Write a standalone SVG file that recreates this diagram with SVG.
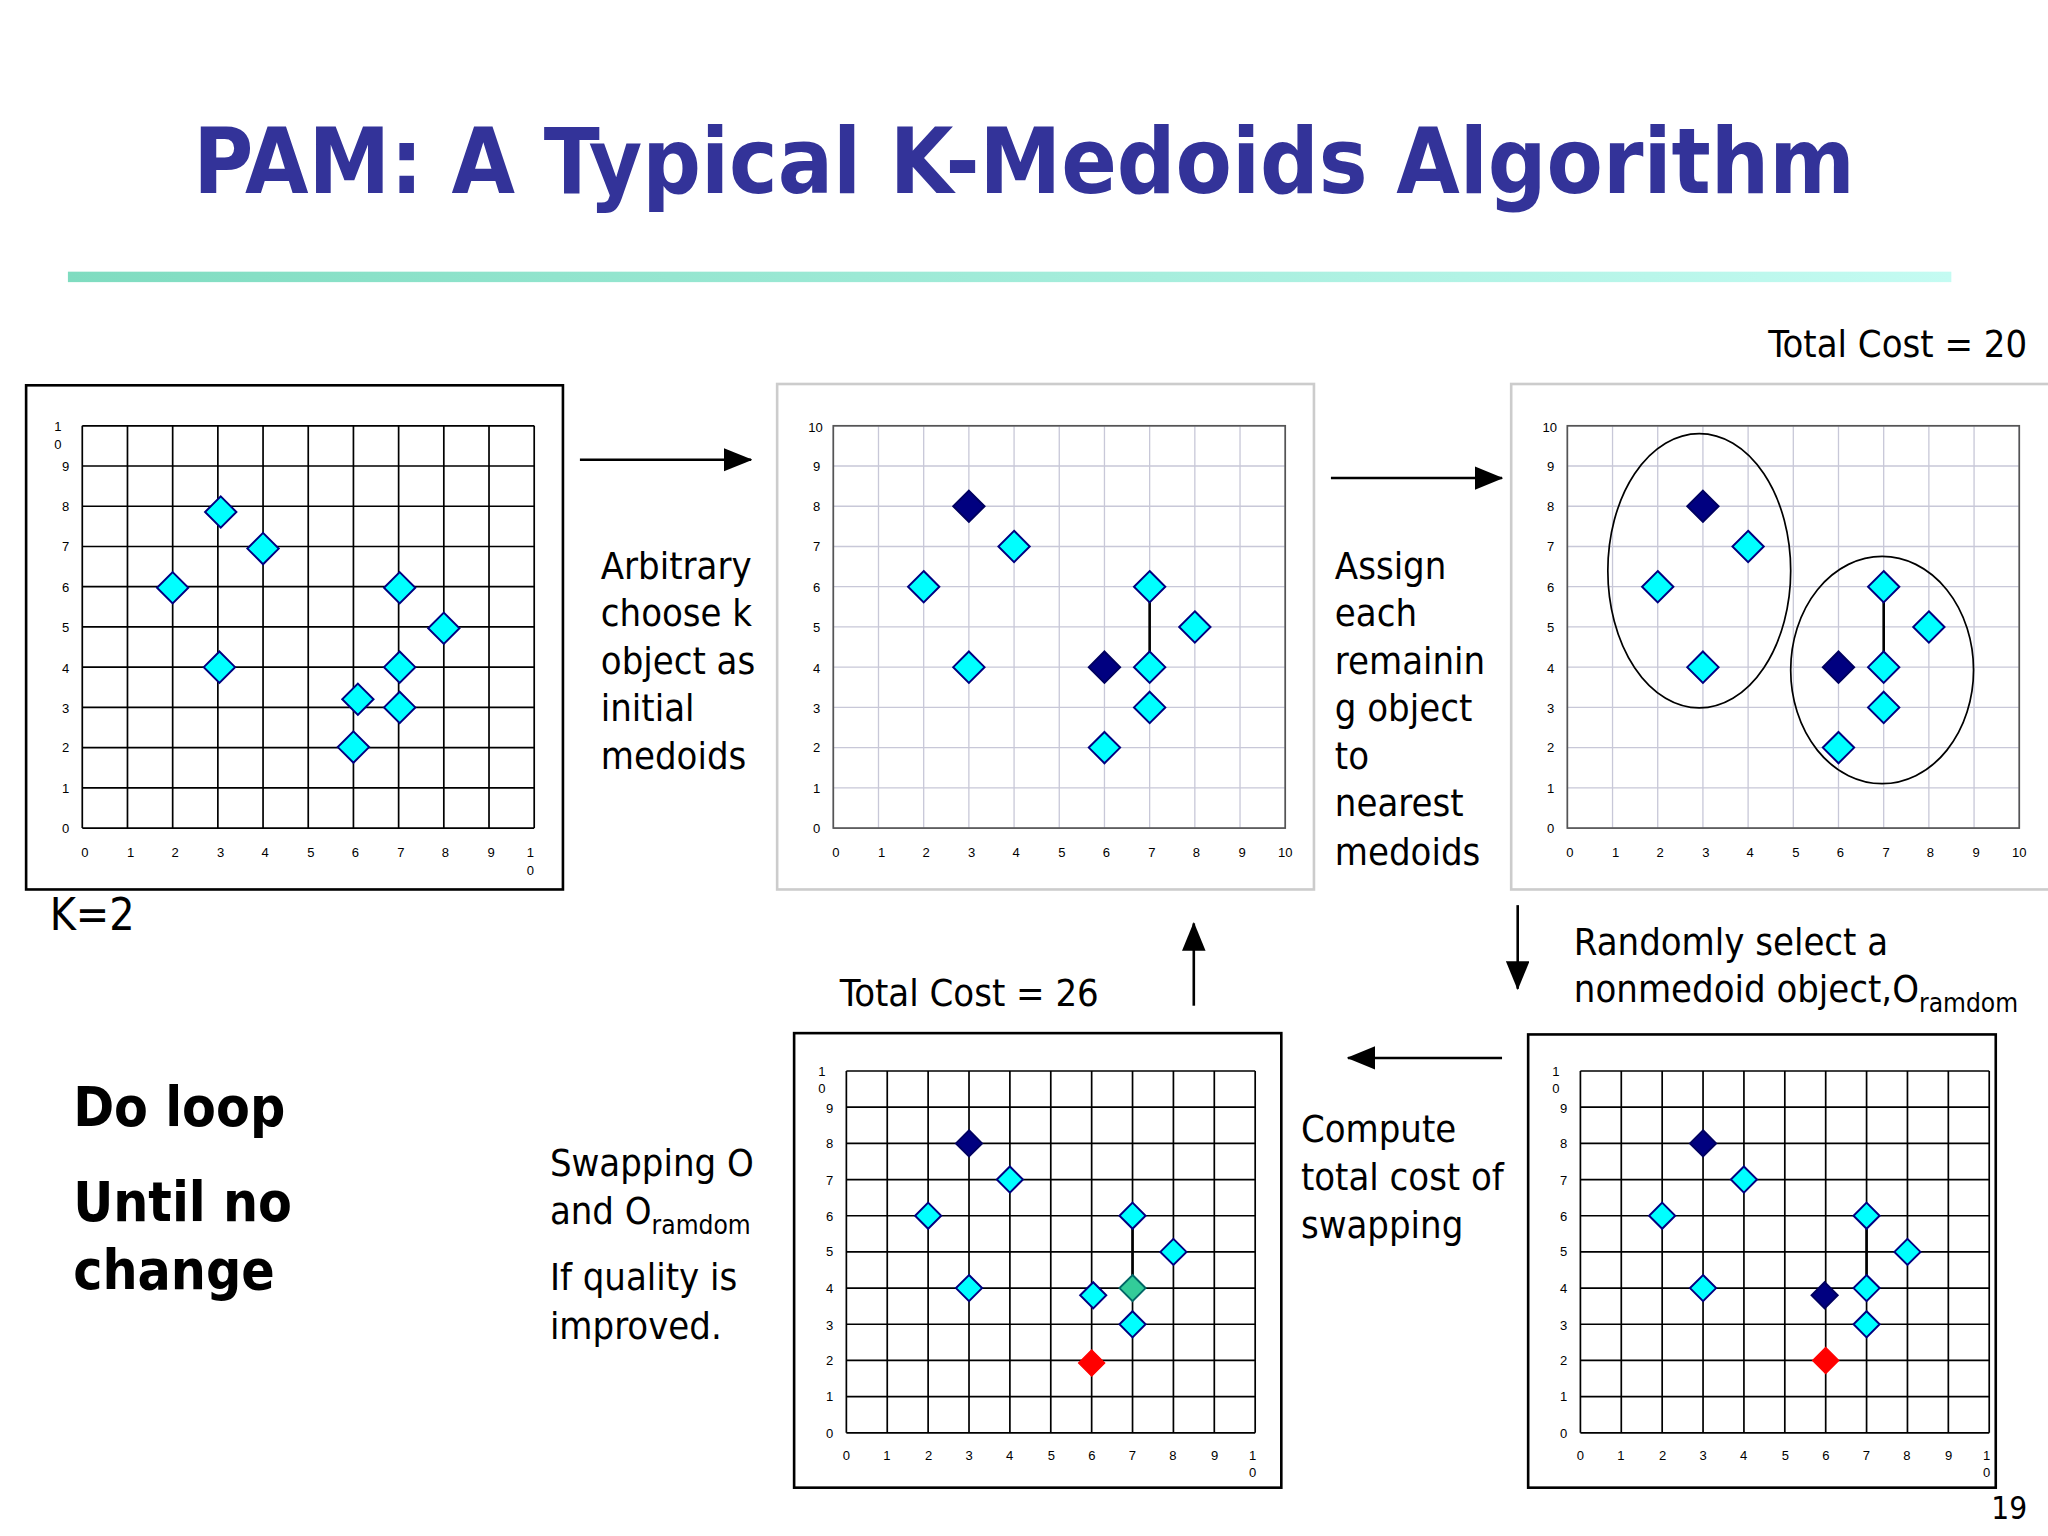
<svg xmlns="http://www.w3.org/2000/svg" xmlns:xlink="http://www.w3.org/1999/xlink" width="2048" height="1536" viewBox="0 0 2048 1536">
<style>
.t{font-family:"DejaVu Sans Condensed","DejaVu Sans",Verdana,sans-serif;font-size:29px;fill:#000}
.b{font-family:"DejaVu Sans Condensed","DejaVu Sans",Verdana,sans-serif;font-size:42px;font-weight:bold;fill:#000}
.ax{font-family:"Liberation Sans",Arial,sans-serif;font-size:10px;fill:#000}
.sub{font-size:20px}
.c{fill:#00ffff;stroke:#000080;stroke-width:1.5}
.m{fill:#000080;stroke:#000060;stroke-width:1.5}
.r{fill:#ff0000;stroke:#ff0000}
.g{fill:#33cc99;stroke:#006666;stroke-width:1.5}
.arr{stroke:#000;stroke-width:2;fill:none;marker-end:url(#ah)}
</style>
<defs>
<linearGradient id="lg" x1="0" x2="1"><stop offset="0" stop-color="#7fdcc0"/><stop offset="1" stop-color="#c4fbf2"/></linearGradient>
<marker id="ah" markerWidth="22" markerHeight="18" refX="21" refY="9" orient="auto" markerUnits="userSpaceOnUse" viewBox="0 0 22 18"><path d="M0 0L22 9L0 18z" fill="#000"/></marker>
<polygon id="dA" points="0,-12 12,0 0,12 -12,0"/>
<polygon id="dB" points="0,-10 10,0 0,10 -10,0"/>
<path id="gA" fill="none" d="M0 0V308M34.6 0V308M69.2 0V308M103.8 0V308M138.4 0V308M173 0V308M207.6 0V308M242.2 0V308M276.8 0V308M311.4 0V308M346 0V308M0 0H346M0 30.8H346M0 61.6H346M0 92.4H346M0 123.2H346M0 154H346M0 184.8H346M0 215.6H346M0 246.4H346M0 277.2H346M0 308H346"/>
<path id="gB" fill="none" d="M0 0V277M31.3 0V277M62.6 0V277M93.9 0V277M125.2 0V277M156.5 0V277M187.8 0V277M219.1 0V277M250.4 0V277M281.7 0V277M313 0V277M0 0H313M0 27.7H313M0 55.4H313M0 83.1H313M0 110.8H313M0 138.5H313M0 166.2H313M0 193.9H313M0 221.6H313M0 249.3H313M0 277H313"/>
<g id="yA" class="ax" text-anchor="end"><text x="-10" y="35">9</text><text x="-10" y="65">8</text><text x="-10" y="96">7</text><text x="-10" y="127">6</text><text x="-10" y="158">5</text><text x="-10" y="189">4</text><text x="-10" y="220">3</text><text x="-10" y="250">2</text><text x="-10" y="281">1</text><text x="-10" y="312">0</text></g>
<g id="xA" class="ax" text-anchor="middle"><text x="2" y="330">0</text><text x="37" y="330">1</text><text x="71" y="330">2</text><text x="106" y="330">3</text><text x="140" y="330">4</text><text x="175" y="330">5</text><text x="209" y="330">6</text><text x="244" y="330">7</text><text x="278" y="330">8</text><text x="313" y="330">9</text></g>
<g id="yB" class="ax" text-anchor="end"><text x="-10" y="32">9</text><text x="-10" y="59">8</text><text x="-10" y="87">7</text><text x="-10" y="115">6</text><text x="-10" y="142">5</text><text x="-10" y="170">4</text><text x="-10" y="198">3</text><text x="-10" y="225">2</text><text x="-10" y="253">1</text><text x="-10" y="281">0</text><text x="-16" y="4">1</text><text x="-16" y="17">0</text></g>
<g id="xB" class="ax" text-anchor="middle"><text x="0" y="298">0</text><text x="31" y="298">1</text><text x="63" y="298">2</text><text x="94" y="298">3</text><text x="125" y="298">4</text><text x="157" y="298">5</text><text x="188" y="298">6</text><text x="219" y="298">7</text><text x="250" y="298">8</text><text x="282" y="298">9</text><text x="311" y="298">1</text><text x="311" y="311">0</text></g>
</defs>
<rect width="2048" height="1536" fill="#fff"/>
<g transform="scale(1.30612)">
<g id="title"><text x="148" y="148" textLength="1272" lengthAdjust="spacingAndGlyphs" style="font-family:'DejaVu Sans Condensed','DejaVu Sans',Verdana,sans-serif;font-size:70px;font-weight:bold;fill:#333399">PAM: A Typical K-Medoids Algorithm</text>
<rect x="52" y="208" width="1442" height="8" fill="url(#lg)"/></g>

<g id="chart1">
<rect x="20" y="295" width="411" height="386" fill="#fff" stroke="#000" stroke-width="2"/>
<g transform="translate(63,326)">
<use href="#gA" stroke="#000" stroke-width="1.3"/>
<use href="#yA"/><use href="#xA"/>
<text class="ax" x="-16" y="4" text-anchor="end">1</text><text class="ax" x="-16" y="18" text-anchor="end">0</text>
<text class="ax" x="343" y="330" text-anchor="middle">1</text><text class="ax" x="343" y="344" text-anchor="middle">0</text>
<use href="#dA" class="c" x="106" y="66"/><use href="#dA" class="c" x="138.4" y="94"/><use href="#dA" class="c" x="69.2" y="124"/><use href="#dA" class="c" x="105" y="184.8"/><use href="#dA" class="c" x="243" y="124"/><use href="#dA" class="c" x="276.8" y="155"/><use href="#dA" class="c" x="243" y="184.8"/><use href="#dA" class="c" x="211" y="209.4"/><use href="#dA" class="c" x="243" y="215.6"/><use href="#dA" class="c" x="207.6" y="246"/>
</g>
</g>

<g id="chart2">
<rect x="595" y="294" width="411" height="387" fill="#fff" stroke="#ccc" stroke-width="2"/>
<g transform="translate(638,326)">
<use href="#gA" stroke="#c8c8d8" stroke-width="1"/>
<rect width="346" height="308" fill="none" stroke="#555" stroke-width="1.3"/>
<use href="#yA"/><use href="#xA"/><text class="ax" x="-8" y="5" text-anchor="end">10</text><text class="ax" x="346" y="330" text-anchor="middle">10</text>
<path d="M242.2 123.2V184.8" stroke="#000" stroke-width="2"/>
<use href="#dA" class="m" x="103.8" y="61.6"/><use href="#dA" class="c" x="138.4" y="92.4"/><use href="#dA" class="c" x="69.2" y="123.2"/><use href="#dA" class="c" x="103.8" y="184.8"/><use href="#dA" class="c" x="242.2" y="123.2"/><use href="#dA" class="c" x="276.8" y="154"/><use href="#dA" class="m" x="207.6" y="184.8"/><use href="#dA" class="c" x="242.2" y="184.8"/><use href="#dA" class="c" x="242.2" y="215.6"/><use href="#dA" class="c" x="207.6" y="246.4"/>
</g>
</g>

<g id="chart3">
<rect x="1157" y="294" width="420" height="387" fill="#fff" stroke="#ccc" stroke-width="2"/>
<g transform="translate(1200,326)">
<use href="#gA" stroke="#c8c8d8" stroke-width="1"/>
<rect width="346" height="308" fill="none" stroke="#555" stroke-width="1.3"/>
<use href="#yA"/><use href="#xA"/><text class="ax" x="-8" y="5" text-anchor="end">10</text><text class="ax" x="346" y="330" text-anchor="middle">10</text>
<path d="M242.2 123.2V184.8" stroke="#000" stroke-width="2"/>
<use href="#dA" class="m" x="103.8" y="61.6"/><use href="#dA" class="c" x="138.4" y="92.4"/><use href="#dA" class="c" x="69.2" y="123.2"/><use href="#dA" class="c" x="103.8" y="184.8"/><use href="#dA" class="c" x="242.2" y="123.2"/><use href="#dA" class="c" x="276.8" y="154"/><use href="#dA" class="m" x="207.6" y="184.8"/><use href="#dA" class="c" x="242.2" y="184.8"/><use href="#dA" class="c" x="242.2" y="215.6"/><use href="#dA" class="c" x="207.6" y="246.4"/>
</g>
<ellipse cx="1301" cy="437" rx="70" ry="105" fill="none" stroke="#000" stroke-width="1.3"/>
<ellipse cx="1441" cy="513" rx="70" ry="87" fill="none" stroke="#000" stroke-width="1.3"/>
</g>

<g id="chart4">
<rect x="1170" y="792" width="358" height="347" fill="#fff" stroke="#000" stroke-width="2"/>
<g transform="translate(1210,820)">
<use href="#gB" stroke="#000" stroke-width="1.3"/>
<use href="#yB"/><use href="#xB"/>
<path d="M219.1 110.8V166.2" stroke="#000" stroke-width="2"/>
<use href="#dB" class="m" x="93.9" y="55.4"/><use href="#dB" class="c" x="125.2" y="83.1"/><use href="#dB" class="c" x="62.6" y="110.8"/><use href="#dB" class="c" x="93.9" y="166.2"/><use href="#dB" class="c" x="219.1" y="110.8"/><use href="#dB" class="c" x="250.4" y="138.5"/><use href="#dB" class="c" x="219.1" y="166.2"/><use href="#dB" class="c" x="219.1" y="193.9"/><use href="#dB" class="m" x="187" y="171.7"/><use href="#dB" class="r" x="187.8" y="221.6"/>
</g>
</g>

<g id="chart5">
<rect x="608" y="791" width="373" height="348" fill="#fff" stroke="#000" stroke-width="2"/>
<g transform="translate(648,820)">
<use href="#gB" stroke="#000" stroke-width="1.3"/>
<use href="#yB"/><use href="#xB"/>
<path d="M219.1 110.8V166.2" stroke="#000" stroke-width="2"/>
<use href="#dB" class="m" x="93.9" y="55.4"/><use href="#dB" class="c" x="125.2" y="83.1"/><use href="#dB" class="c" x="62.6" y="110.8"/><use href="#dB" class="c" x="93.9" y="166.2"/><use href="#dB" class="c" x="219.1" y="110.8"/><use href="#dB" class="c" x="250.4" y="138.5"/><use href="#dB" class="g" x="219.1" y="166.2"/><use href="#dB" class="c" x="219.1" y="193.9"/><use href="#dB" class="c" x="189" y="171.7"/><use href="#dB" class="r" x="187.8" y="223.6"/>
</g>
</g>

<g id="connectors">
<path class="arr" d="M444 352H575"/>
<path class="arr" d="M1019 366H1150"/>
<path class="arr" d="M1162 693V757"/>
<path class="arr" d="M1150 810H1032"/>
<path class="arr" d="M914 770V707"/>
</g>

<g id="labels">
<text class="t" x="1552" y="273" text-anchor="end">Total Cost = 20</text>
<text class="t"><tspan x="460" y="443">Arbitrary</tspan><tspan x="460" y="479">choose k</tspan><tspan x="460" y="516">object as</tspan><tspan x="460" y="552">initial</tspan><tspan x="460" y="589">medoids</tspan></text>
<text class="t"><tspan x="1022" y="443">Assign</tspan><tspan x="1022" y="479">each</tspan><tspan x="1022" y="516">remainin</tspan><tspan x="1022" y="552">g object</tspan><tspan x="1022" y="589">to</tspan><tspan x="1022" y="625">nearest</tspan><tspan x="1022" y="662">medoids</tspan></text>
<text class="t" x="38" y="712" style="font-size:34px">K=2</text>
<text class="t"><tspan x="1205" y="731">Randomly select a</tspan><tspan x="1205" y="767">nonmedoid object,O</tspan><tspan class="sub" dy="8">ramdom</tspan></text>
<text class="t" x="643" y="770">Total Cost = 26</text>
<text class="t"><tspan x="996" y="874">Compute</tspan><tspan x="996" y="911">total cost of</tspan><tspan x="996" y="948">swapping</tspan></text>
<text class="t"><tspan x="421" y="900">Swapping O</tspan><tspan x="421" y="937">and O</tspan><tspan class="sub" dy="8">ramdom</tspan><tspan x="421" y="988">If quality is</tspan><tspan x="421" y="1025">improved.</tspan></text>
<text class="b"><tspan x="56" y="862">Do loop</tspan><tspan x="56" y="935">Until no</tspan><tspan x="56" y="987">change</tspan></text>
<text class="t" x="1552" y="1163" text-anchor="end" style="font-size:24px">19</text>
</g>
</g>
</svg>
